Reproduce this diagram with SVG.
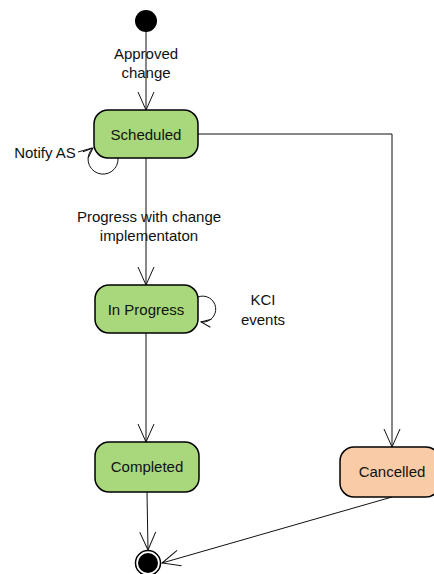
<svg xmlns="http://www.w3.org/2000/svg" width="434" height="574" viewBox="0 0 434 574">
  <style>
    .st { stroke: #000; stroke-width: 1.5; }
    .green { fill: #a9d77c; }
    .peach { fill: #f9cba6; }
    .lbl { font-family: "Liberation Sans", Arial, sans-serif; font-size: 15px; fill: #111; text-anchor: middle; }
    .con { stroke: #111; stroke-width: 1; fill: none; }
  </style>
  <defs>
    <marker id="arr" markerUnits="userSpaceOnUse" markerWidth="20" markerHeight="20" viewBox="0 0 20 20" refX="19" refY="10" orient="auto">
      <path d="M1,2 L19,10 L1,18" fill="none" stroke="#111" stroke-width="1"/>
    </marker>
    <marker id="arrs" markerUnits="userSpaceOnUse" markerWidth="12" markerHeight="12" viewBox="0 0 12 12" refX="11" refY="6" orient="auto">
      <path d="M1,2 L11,6 L1,10" fill="none" stroke="#111" stroke-width="1"/>
    </marker>
  </defs>

  <g id="connectors">
    <line class="con" x1="146" y1="30" x2="146" y2="110" marker-end="url(#arr)"/>
    <line class="con" x1="146" y1="158" x2="146" y2="285" marker-end="url(#arr)"/>
    <line class="con" x1="146" y1="333" x2="146" y2="442" marker-end="url(#arr)"/>
    <line class="con" x1="147" y1="492" x2="148" y2="550" marker-end="url(#arr)"/>
    <polyline class="con" points="198,134 392,134 392,447" marker-end="url(#arr)"/>
    <line class="con" x1="392" y1="497" x2="162" y2="563" marker-end="url(#arr)"/>
    <path class="con" d="M118,158 A15,15 0 1 1 93,148" marker-end="url(#arrs)"/>
    <line class="con" x1="78" y1="152" x2="92" y2="148"/>
    <path class="con" d="M198,297 A13,13 0 1 1 201,322" marker-end="url(#arrs)"/>
    <text class="lbl" x="146" y="59">Approved</text>
    <text class="lbl" x="146" y="78">change</text>
    <text class="lbl" x="45" y="158">Notify AS</text>
    <text class="lbl" x="149" y="222">Progress with change</text>
    <text class="lbl" x="149" y="241">implementaton</text>
    <text class="lbl" x="263" y="305">KCI</text>
    <text class="lbl" x="263" y="325">events</text>
  </g>

  <g id="initial">
    <circle cx="146" cy="21" r="11" fill="#000"/>
  </g>

  <g id="scheduled">
    <rect class="st green" x="94" y="110" width="104" height="48" rx="14"/>
    <text class="lbl" x="146" y="140">Scheduled</text>
  </g>

  <g id="inprogress">
    <rect class="st green" x="95" y="285" width="103" height="48" rx="14"/>
    <text class="lbl" x="146" y="315">In Progress</text>
  </g>

  <g id="completed">
    <rect class="st green" x="95" y="442" width="104" height="50" rx="14"/>
    <text class="lbl" x="147" y="472">Completed</text>
  </g>

  <g id="cancelled">
    <rect class="st peach" x="340" y="447" width="100" height="50" rx="14"/>
    <text class="lbl" x="392" y="477">Cancelled</text>
  </g>

  <g id="final">
    <circle cx="148" cy="563" r="12.5" fill="#fff" stroke="#000" stroke-width="1.5"/>
    <circle cx="148" cy="563" r="10" fill="#000"/>
  </g>
</svg>
